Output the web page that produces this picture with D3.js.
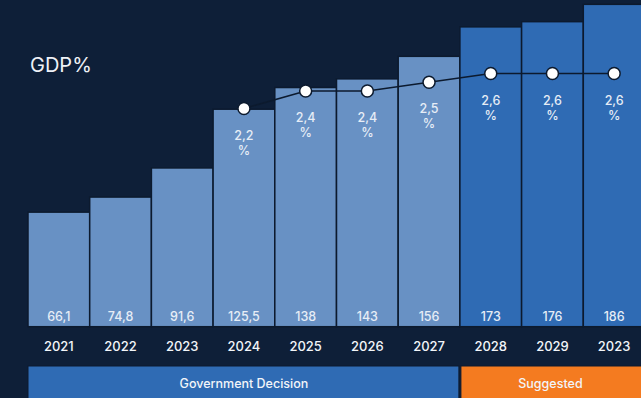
<!DOCTYPE html>
<html lang="en">
<head>
  <meta charset="UTF-8" />
  <title>GDP%</title>
  <script src="https://d3js.org/d3.v7.min.js"></script>
  <style>
    body {
      margin: 0;
      background: #0e1f38;
      font-family: Inter, "Open Sans", sans-serif;
    }
    text {
      font-weight: 500;
    }
  </style>
</head>
<body>
  <svg id="chart" width="641" height="398"></svg>

  <script>
    const width = 641;
    const height = 398;

    // data
    const years = ["2021", "2022", "2023", "2024", "2025", "2026", "2027", "2028", "2029", "2023"];
    const amounts = [66.1, 74.8, 91.6, 125.5, 138, 143, 156, 173, 176, 186];
    const amountLabels = ["66,1", "74,8", "91,6", "125,5", "138", "143", "156", "173", "176", "186"];
    const gdpShare = [null, null, null, 2.2, 2.4, 2.4, 2.5, 2.6, 2.6, 2.6];
    const gdpLabels = [null, null, null, "2,2", "2,4", "2,4", "2,5", "2,6", "2,6", "2,6"];
    const suggestedFrom = 7; // index where the "Suggested" years start
    const groups = [
      { name: "Government Decision", first: 0, last: 6 },
      { name: "Suggested", first: 7, last: 9 }
    ];

    const svg = d3.select("#chart");
    const idx = d3.range(years.length);

    const x = d3.scaleBand()
      .domain(idx)
      .range([28, 645])
      .padding(0);

    const y = d3.scaleLinear()
      .domain([0, 188.5])
      .range([326.7, 0]);

    const yLine = d3.scaleLinear()
      .domain([2, 3])
      .range([126, 38.5]);

    svg.append("rect")
      .attr("width", width)
      .attr("height", height)
      .attr("fill", "#0e1f38");

    // title
    svg.append("text")
      .attr("x", 30)
      .attr("y", 71.5)
      .attr("fill", "#eef2f7")
      .attr("font-size", 20)
      .style("font-weight", 400)
      .text("GDP%");

    // bars
    svg.append("g")
      .selectAll("rect")
      .data(idx)
      .join("rect")
      .attr("x", i => x(i))
      .attr("y", i => y(amounts[i]))
      .attr("width", x.bandwidth())
      .attr("height", i => y(0) - y(amounts[i]))
      .attr("fill", i => i >= suggestedFrom ? "#2f6bb4" : "#6891c4")
      .attr("stroke", "#0c1a2e")
      .attr("stroke-width", 1.5);

    // amount labels
    svg.append("g")
      .selectAll("text")
      .data(idx)
      .join("text")
      .attr("x", i => x(i) + x.bandwidth() / 2)
      .attr("y", 321)
      .attr("text-anchor", "middle")
      .attr("fill", "#e6edf6")
      .attr("font-size", 12.5)
      .text(i => amountLabels[i]);

    // year labels
    svg.append("g")
      .selectAll("text")
      .data(idx)
      .join("text")
      .attr("x", i => x(i) + x.bandwidth() / 2)
      .attr("y", 351)
      .attr("text-anchor", "middle")
      .attr("fill", "#f2f5f9")
      .attr("font-size", 13)
      .text(i => years[i]);

    // gdp share line
    const lineIdx = idx.filter(i => gdpShare[i] != null);
    const line = d3.line()
      .x(i => x(i) + x.bandwidth() / 2)
      .y(i => yLine(gdpShare[i]));

    svg.append("path")
      .datum(lineIdx)
      .attr("d", line)
      .attr("fill", "none")
      .attr("stroke", "#0c1a2e")
      .attr("stroke-width", 1.5);

    svg.append("g")
      .selectAll("circle")
      .data(lineIdx)
      .join("circle")
      .attr("cx", i => x(i) + x.bandwidth() / 2)
      .attr("cy", i => yLine(gdpShare[i]))
      .attr("r", 6)
      .attr("fill", "#ffffff")
      .attr("stroke", "#0c1a2e")
      .attr("stroke-width", 1.5);

    const pct = svg.append("g")
      .selectAll("text")
      .data(lineIdx)
      .join("text")
      .attr("text-anchor", "middle")
      .attr("fill", "#e6edf6")
      .attr("font-size", 12.5);
    pct.append("tspan")
      .attr("x", i => x(i) + x.bandwidth() / 2)
      .attr("y", i => yLine(gdpShare[i]) + 31)
      .text(i => gdpLabels[i]);
    pct.append("tspan")
      .attr("x", i => x(i) + x.bandwidth() / 2)
      .attr("y", i => yLine(gdpShare[i]) + 46)
      .text("%");

    // group bands at the bottom
    const band = svg.append("g")
      .selectAll("g")
      .data(groups)
      .join("g");

    band.append("rect")
      .attr("x", d => x(d.first) + (d.first > 0 ? 1 : 0))
      .attr("y", 366)
      .attr("width", d => x(d.last) + x.bandwidth() - x(d.first) - 1)
      .attr("height", 40)
      .attr("fill", (d, i) => i === 0 ? "#2f6bb4" : "#f47b20")
      .attr("stroke", "#0c1a2e")
      .attr("stroke-width", 1);

    band.append("text")
      .attr("x", (d, i) => i === 0
        ? (x(d.first) + x(d.last) + x.bandwidth()) / 2
        : (x(d.first) + width) / 2)
      .attr("y", 387.5)
      .attr("text-anchor", "middle")
      .attr("fill", "#f2f5f9")
      .attr("font-size", 12.5)
      .text(d => d.name);
  </script>
</body>
</html>
